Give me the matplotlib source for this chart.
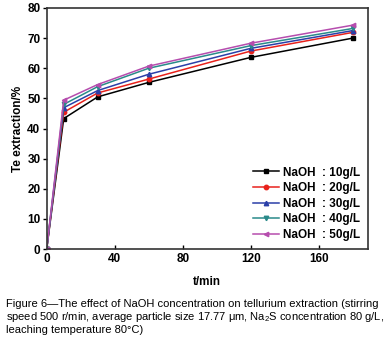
import matplotlib

matplotlib.use("Agg")

import matplotlib.pyplot as plt  # noqa: E402

plt.rcParams["font.family"] = ["Liberation Sans", "DejaVu Sans"]
plt.rcParams["mathtext.fontset"] = "custom"
plt.rcParams["mathtext.rm"] = "Liberation Sans"
plt.rcParams["mathtext.it"] = "Liberation Sans:italic"

time_min = [0, 10, 30, 60, 120, 180]
naoh_10 = [0, 43.3, 50.5, 55.3, 63.6, 70.0]
naoh_20 = [0, 45.4, 51.8, 56.4, 65.7, 71.9]
naoh_30 = [0, 46.9, 52.6, 58.0, 66.6, 72.5]
naoh_40 = [0, 48.0, 53.9, 60.0, 67.5, 73.2]
naoh_50 = [0, 49.4, 54.6, 60.7, 68.3, 74.3]

labels = ["NaOH  : 10g/L", "NaOH  : 20g/L", "NaOH  : 30g/L",
          "NaOH  : 40g/L", "NaOH  : 50g/L"]
series = [naoh_10, naoh_20, naoh_30, naoh_40, naoh_50]
colors = ["#000000", "#e8221c", "#2b3fa8", "#2a8a8a", "#b64dae"]
markers = ["s", "o", "^", "v", "<"]

fig = plt.figure(figsize=(3.86, 3.45), dpi=100)
ax = fig.add_axes([46.7 / 386, 1 - 249 / 345, (368 - 46.7) / 386, (249 - 8) / 345])

for vals, lab, col, mk in zip(series, labels, colors, markers):
    ax.plot(time_min, vals, color=col, marker=mk, markersize=3.2, linewidth=1.1,
            label=lab)

ax.set_xlim(0, 189)
ax.set_ylim(0, 80)
ax.set_xticks([0, 40, 80, 120, 160])
ax.set_yticks(range(0, 81, 10))
ax.tick_params(axis="x", direction="in", length=3, width=1, labelsize=8.5, pad=3)
ax.tick_params(axis="y", direction="out", length=3, width=1, labelsize=8.5, pad=1.5)
for lbl in ax.get_xticklabels() + ax.get_yticklabels():
    lbl.set_fontweight("bold")
for sp in ax.spines.values():
    sp.set_linewidth(1.2)
    sp.set_color("#333333")

ax.set_xlabel("t/min", fontsize=8.5, fontweight="bold", labelpad=8)
ax.set_ylabel("Te extraction/%", fontsize=8.5, fontweight="bold", labelpad=2)

leg = ax.legend(loc="lower right", frameon=False, fontsize=8.5,
                handlelength=2.2, handletextpad=0.3, labelspacing=0.3,
                borderaxespad=0.3, markerscale=1.0)
for t in leg.get_texts():
    t.set_fontweight("bold")

caption = ("Figure 6\u2014The effect of NaOH concentration on tellurium extraction (stirring\n"
           "speed 500 r/min, average particle size 17.77 \u03bcm, Na$_2$S concentration 80 g/L,\n"
           "leaching temperature 80\u00b0C)")
fig.text(6 / 386, 1 - 299 / 345, caption, fontsize=8.0, va="top", ha="left",
         linespacing=1.12)

fig.savefig("out.png", dpi=100)
